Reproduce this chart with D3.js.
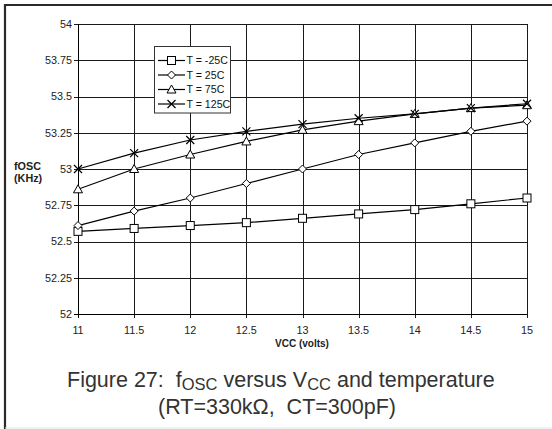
<!DOCTYPE html>
<html><head><meta charset="utf-8">
<script src="https://cdn.jsdelivr.net/npm/d3@7"></script>
<style>html,body{margin:0;padding:0;background:#fff;}svg{display:block;}text{white-space:pre;}</style>
</head><body>
<script>
const vcc = [11, 11.5, 12, 12.5, 13, 13.5, 14, 14.5, 15];
const seriesNames = ["T = -25C", "T = 25C", "T = 75C", "T = 125C"];
const tm25 = [52.57, 52.59, 52.61, 52.63, 52.66, 52.69, 52.72, 52.76, 52.80];
const t25 = [52.61, 52.71, 52.80, 52.90, 53.00, 53.10, 53.18, 53.26, 53.33];
const t75 = [52.86, 53.00, 53.10, 53.19, 53.27, 53.33, 53.38, 53.42, 53.44];
const t125 = [53.00, 53.11, 53.20, 53.26, 53.31, 53.35, 53.38, 53.42, 53.45];
const markers = ["square", "diamond", "triangle", "cross"];
const yTicks = [52, 52.25, 52.5, 52.75, 53, 53.25, 53.5, 53.75, 54];
const xTicks = [11, 11.5, 12, 12.5, 13, 13.5, 14, 14.5, 15];

const W = 552, H = 429;
const svg = d3.select("body").append("svg").attr("width", W).attr("height", H);
const font = "Liberation Sans, Arial, sans-serif";

// frame
svg.append("rect").attr("x",0).attr("y",0).attr("width",W).attr("height",H).attr("fill","#fff");
svg.append("line").attr("x1",4).attr("x2",W).attr("y1",5).attr("y2",5).attr("stroke","#2a2a2a").attr("stroke-width",2.2);
svg.append("line").attr("x1",5).attr("x2",5).attr("y1",4).attr("y2",H).attr("stroke","#2a2a2a").attr("stroke-width",2.2);
svg.append("line").attr("x1",5).attr("x2",W).attr("y1",428).attr("y2",428).attr("stroke","#e4e4e4").attr("stroke-width",1);

const x = d3.scaleLinear().domain([11,15]).range([78,527]);
const y = d3.scaleLinear().domain([52,54]).range([314,24]);
const px = v => Math.round(v) + 0.5;

// grid
const g = svg.append("g").attr("shape-rendering","crispEdges");
g.selectAll("line.h").data(yTicks).join("line")
  .attr("x1", x(11)-4).attr("x2", x(15)).attr("y1", d=>px(y(d))).attr("y2", d=>px(y(d)))
  .attr("stroke","#1a1a1a").attr("stroke-width",1);
g.selectAll("line.v").data(xTicks).join("line")
  .attr("y1", y(54)).attr("y2", y(52)+4).attr("x1", d=>px(x(d))).attr("x2", d=>px(x(d)))
  .attr("stroke","#1a1a1a").attr("stroke-width",1);
// axis lines
g.append("line").attr("x1",px(x(11))).attr("x2",px(x(11))).attr("y1",y(54)).attr("y2",y(52)+4).attr("stroke","#000").attr("stroke-width",1.5);
g.append("line").attr("x1",x(11)-4).attr("x2",x(15)).attr("y1",px(y(52))).attr("y2",px(y(52))).attr("stroke","#000").attr("stroke-width",1.5);

// tick labels
svg.append("g").selectAll("text").data(yTicks).join("text")
  .attr("x",72).attr("y",d=>y(d)).attr("dy","0.35em").attr("text-anchor","end")
  .attr("font-family",font).attr("font-size",10.8).attr("fill","#222").text(d=>d);
svg.append("g").selectAll("text").data(xTicks).join("text")
  .attr("x",d=>x(d)).attr("y",334).attr("text-anchor","middle")
  .attr("font-family",font).attr("font-size",10.8).attr("fill","#222").text(d=>d);

// axis titles
const yt = svg.append("text").attr("font-family",font).attr("font-size",10.8).attr("font-weight","bold").attr("fill","#222");
yt.append("tspan").attr("x",14).attr("y",169.5).text("fOSC");
yt.append("tspan").attr("x",14).attr("y",182).text("(KHz)");
svg.append("text").attr("x",302).attr("y",347).attr("text-anchor","middle")
  .attr("font-family",font).attr("font-size",10).attr("font-weight","bold").attr("fill","#222").text("VCC (volts)");

// marker shapes
function drawMarker(sel, type, cx, cy) {
  if (type === "square") {
    sel.append("rect").attr("x",cx-4).attr("y",cy-4).attr("width",8).attr("height",8)
      .attr("fill","#fff").attr("stroke","#000").attr("stroke-width",1);
  } else if (type === "diamond") {
    sel.append("path").attr("d",`M${cx},${cy-4}L${cx+4},${cy}L${cx},${cy+4}L${cx-4},${cy}Z`)
      .attr("fill","#fff").attr("stroke","#000").attr("stroke-width",1);
  } else if (type === "triangle") {
    sel.append("path").attr("d",`M${cx},${cy-4.5}L${cx+4.5},${cy+3.5}L${cx-4.5},${cy+3.5}Z`)
      .attr("fill","#fff").attr("stroke","#000").attr("stroke-width",1);
  } else {
    sel.append("path").attr("d",`M${cx-4},${cy-4}L${cx+4},${cy+4}M${cx-4},${cy+4}L${cx+4},${cy-4}`)
      .attr("fill","none").attr("stroke","#000").attr("stroke-width",1.2);
  }
}

const allSeries = [tm25, t25, t75, t125];
const line = d3.line().x((d,i)=>x(vcc[i])).y(d=>y(d));
allSeries.forEach((s, k) => {
  const sg = svg.append("g");
  sg.append("path").attr("d", line(s)).attr("fill","none").attr("stroke","#000").attr("stroke-width",1.2);
  s.forEach((v,i) => drawMarker(sg, markers[k], x(vcc[i]), y(v)));
});

// legend
const lg = svg.append("g");
lg.append("rect").attr("x",154.5).attr("y",46.5).attr("width",76).attr("height",66.5)
  .attr("fill","#fff").attr("stroke","#333").attr("stroke-width",1);
const rowY = [60.5, 75, 89.5, 104];
seriesNames.forEach((n,k) => {
  lg.append("line").attr("x1",158).attr("x2",185).attr("y1",rowY[k]).attr("y2",rowY[k]).attr("stroke","#000").attr("stroke-width",1.2);
  drawMarker(lg, markers[k], 171.5, rowY[k]);
  lg.append("text").attr("x",186.5).attr("y",rowY[k]).attr("dy","0.35em")
    .attr("font-family",font).attr("font-size",10.6).attr("fill","#111").text(n);
});

// caption
const cap = svg.append("text").attr("font-family",font).attr("font-size",21.5).attr("fill","#333");
cap.append("tspan").attr("x",67).attr("y",387).text("Figure 27:  f");
cap.append("tspan").attr("font-size",16.5).attr("dy",3).text("OSC");
cap.append("tspan").attr("dy",-3).text(" versus V");
cap.append("tspan").attr("font-size",16.5).attr("dy",3).text("CC");
cap.append("tspan").attr("dy",-3).text(" and temperature");
svg.append("text").attr("x",158).attr("y",413.5).attr("font-family",font).attr("font-size",21.5).attr("fill","#333")
  .text("(RT=330k\u03A9,  CT=300pF)");
</script>
</body></html>
